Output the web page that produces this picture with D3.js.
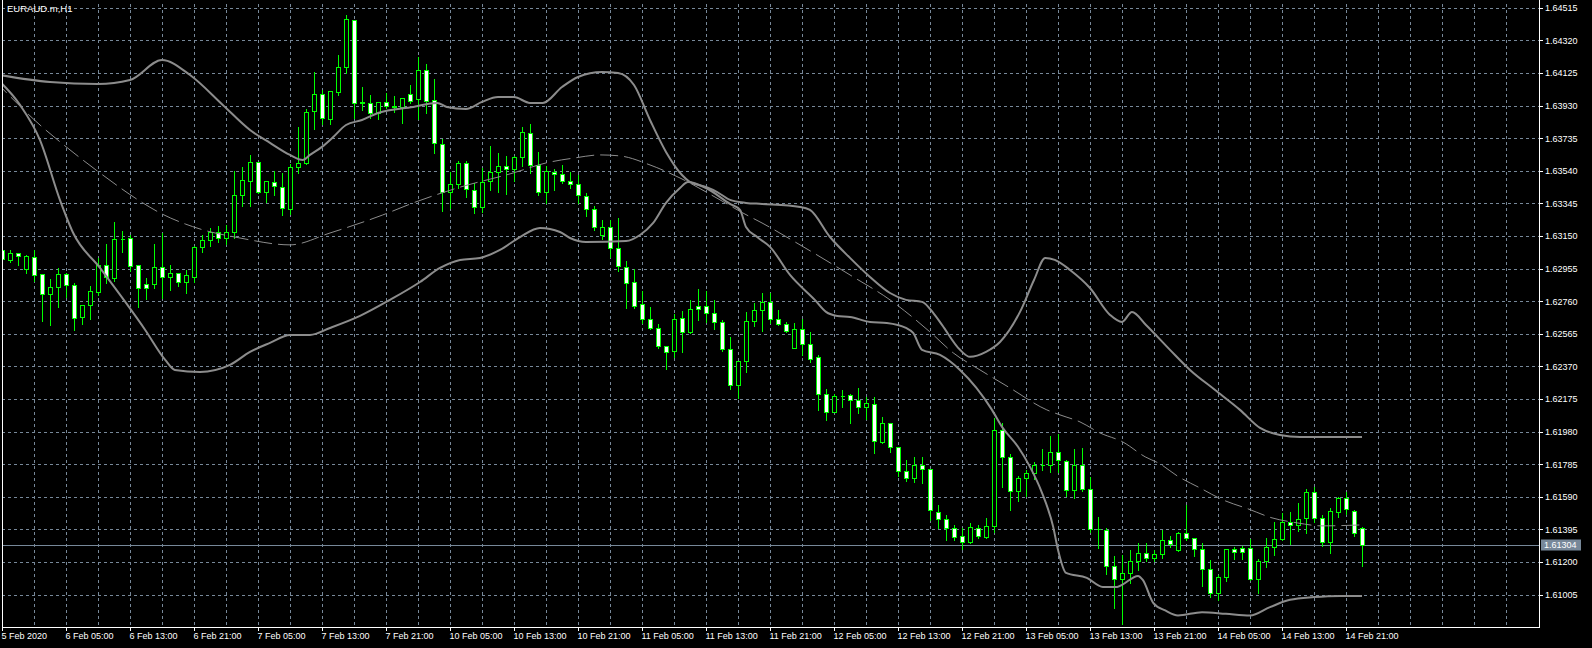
<!DOCTYPE html>
<html><head><meta charset="utf-8">
<script src="https://cdn.jsdelivr.net/npm/d3@7"></script>
<style>
html,body{margin:0;padding:0;background:#000;overflow:hidden;}
svg{display:block;}
</style></head><body>
<svg id="c" width="1592" height="648"></svg>
<script>
// ---------------- DATA ----------------
const symbolTitle = "EURAUD.m,H1";
const firstBar = [2020, 1, 5, 21]; // 5 Feb 2020 21:00, hourly bars (weekends skipped)

const opens = [1.63067,1.63007,1.63047,1.62951,1.63023,1.62921,1.62802,1.62844,1.62923,1.62856,
1.62664,1.62736,1.62817,1.62975,1.62897,1.63132,1.63137,1.62975,1.62862,1.62862,
1.62963,1.62903,1.62927,1.62873,1.62907,1.63085,1.63126,1.63174,1.63138,1.63174,
1.63394,1.63481,1.63591,1.63412,1.63471,1.63442,1.63310,1.63561,1.63585,1.63896,
1.63998,1.63848,1.64010,1.64159,1.64440,1.63950,1.63944,1.63884,1.63950,1.63928,
1.63920,1.63999,1.63968,1.64141,1.63962,1.63699,1.63415,1.63463,1.63585,1.63424,
1.63326,1.63477,1.63531,1.63567,1.63549,1.63621,1.63764,1.63573,1.63412,1.63531,
1.63519,1.63477,1.63460,1.63390,1.63310,1.63154,1.63202,1.63077,1.62967,1.62873,
1.62742,1.62652,1.62598,1.62491,1.62461,1.62658,1.62574,1.62730,1.62730,1.62688,
1.62634,1.62473,1.62258,1.62401,1.62640,1.62706,1.62757,1.62652,1.62622,1.62482,
1.62592,1.62503,1.62425,1.62204,1.62100,1.62195,1.62198,1.62168,1.62126,1.62144,
1.61920,1.62030,1.61887,1.61743,1.61701,1.61781,1.61755,1.61498,1.61456,1.61406,
1.61356,1.61319,1.61402,1.61349,1.61414,1.61988,1.61827,1.61624,1.61701,1.61731,
1.61781,1.61781,1.61857,1.61805,1.61630,1.61781,1.61636,1.61396,1.61390,1.61175,
1.61097,1.61133,1.61203,1.61253,1.61223,1.61247,1.61331,1.61271,1.61372,1.61343,
1.61277,1.61157,1.61014,1.61109,1.61277,1.61283,1.61283,1.61097,1.61207,1.61289,
1.61337,1.61438,1.61422,1.61462,1.61618,1.61462,1.61319,1.61498,1.61582,1.61508,
1.61402];
const highs = [1.63079,1.63067,1.63050,1.63034,1.63067,1.62925,1.62891,1.62957,1.62926,1.62867,
1.62739,1.62851,1.63017,1.63102,1.63232,1.63180,1.63156,1.62978,1.62897,1.63102,
1.63170,1.62977,1.62930,1.62947,1.63090,1.63156,1.63198,1.63210,1.63216,1.63537,
1.63563,1.63635,1.63594,1.63480,1.63537,1.63525,1.63579,1.63802,1.63908,1.64129,
1.64022,1.64019,1.64231,1.64470,1.64443,1.64040,1.63992,1.63953,1.64004,1.63988,
1.63977,1.64053,1.64221,1.64179,1.64089,1.63732,1.63535,1.63599,1.63599,1.63465,
1.63555,1.63689,1.63645,1.63627,1.63627,1.63800,1.63820,1.63651,1.63569,1.63549,
1.63573,1.63531,1.63513,1.63406,1.63330,1.63246,1.63246,1.63256,1.63001,1.62951,
1.62823,1.62726,1.62624,1.62494,1.62682,1.62700,1.62766,1.62832,1.62820,1.62766,
1.62646,1.62545,1.62404,1.62694,1.62748,1.62808,1.62808,1.62708,1.62634,1.62628,
1.62652,1.62578,1.62439,1.62234,1.62204,1.62229,1.62204,1.62240,1.62186,1.62186,
1.62068,1.62033,1.61890,1.61811,1.61827,1.61827,1.61758,1.61540,1.61480,1.61420,
1.61402,1.61432,1.61422,1.61462,1.62062,1.62030,1.61847,1.61715,1.61751,1.61801,
1.61875,1.61954,1.61964,1.61811,1.61875,1.61881,1.61711,1.61468,1.61402,1.61233,
1.61243,1.61273,1.61313,1.61313,1.61273,1.61392,1.61356,1.61382,1.61542,1.61346,
1.61313,1.61213,1.61123,1.61280,1.61289,1.61296,1.61337,1.61217,1.61343,1.61438,
1.61496,1.61498,1.61555,1.61637,1.61651,1.61482,1.61522,1.61591,1.61621,1.61511,
1.61408];
const lows = [1.62995,1.62997,1.62977,1.62927,1.62883,1.62644,1.62618,1.62724,1.62784,1.62588,
1.62624,1.62652,1.62797,1.62871,1.62883,1.63056,1.62943,1.62724,1.62774,1.62838,
1.62778,1.62827,1.62853,1.62811,1.62875,1.63055,1.63090,1.63114,1.63102,1.63138,
1.63330,1.63330,1.63406,1.63355,1.63394,1.63276,1.63280,1.63525,1.63579,1.63788,
1.63818,1.63818,1.63992,1.64123,1.63854,1.63902,1.63854,1.63848,1.63914,1.63894,
1.63824,1.63947,1.63850,1.63888,1.63648,1.63302,1.63316,1.63436,1.63385,1.63290,
1.63296,1.63425,1.63415,1.63403,1.63481,1.63569,1.63529,1.63396,1.63349,1.63425,
1.63465,1.63436,1.63346,1.63270,1.63186,1.63134,1.63027,1.62943,1.62718,1.62718,
1.62632,1.62592,1.62482,1.62353,1.62425,1.62455,1.62568,1.62646,1.62634,1.62592,
1.62461,1.62237,1.62182,1.62339,1.62610,1.62584,1.62632,1.62619,1.62578,1.62479,
1.62439,1.62397,1.62110,1.62050,1.62097,1.62126,1.62034,1.62094,1.62054,1.61854,
1.61911,1.61860,1.61715,1.61687,1.61681,1.61672,1.61452,1.61406,1.61332,1.61332,
1.61277,1.61316,1.61346,1.61346,1.61378,1.61648,1.61514,1.61567,1.61594,1.61697,
1.61751,1.61739,1.61739,1.61596,1.61584,1.61624,1.61378,1.61283,1.61127,1.60924,
1.60830,1.61073,1.61153,1.61203,1.61203,1.61223,1.61289,1.61268,1.61332,1.61237,
1.61059,1.60993,1.60974,1.61089,1.61217,1.61217,1.61093,1.61017,1.61169,1.61243,
1.61334,1.61307,1.61388,1.61372,1.61442,1.61298,1.61256,1.61468,1.61486,1.61358,
1.61179];
const closes = [1.63011,1.63047,1.63031,1.63031,1.62919,1.62802,1.62844,1.62923,1.62856,1.62658,
1.62736,1.62821,1.62975,1.62903,1.63131,1.63130,1.62973,1.62838,1.62838,1.62963,
1.62903,1.62927,1.62873,1.62915,1.63083,1.63126,1.63174,1.63138,1.63174,1.63394,
1.63483,1.63591,1.63412,1.63477,1.63448,1.63316,1.63561,1.63585,1.63890,1.63998,
1.63854,1.64016,1.64159,1.64446,1.63944,1.63946,1.63884,1.63950,1.63925,1.63920,
1.63974,1.63959,1.64141,1.63959,1.63705,1.63415,1.63460,1.63585,1.63433,1.63326,
1.63475,1.63531,1.63567,1.63549,1.63621,1.63770,1.63573,1.63412,1.63537,1.63519,
1.63477,1.63460,1.63394,1.63310,1.63202,1.63202,1.63077,1.62969,1.62867,1.62733,
1.62652,1.62598,1.62491,1.62455,1.62652,1.62574,1.62712,1.62712,1.62688,1.62634,
1.62473,1.62258,1.62401,1.62640,1.62706,1.62754,1.62652,1.62622,1.62584,1.62592,
1.62503,1.62417,1.62204,1.62100,1.62192,1.62194,1.62168,1.62126,1.62150,1.61923,
1.62030,1.61887,1.61743,1.61701,1.61781,1.61755,1.61512,1.61456,1.61406,1.61352,
1.61319,1.61408,1.61354,1.61414,1.61988,1.61827,1.61624,1.61701,1.61731,1.61781,
1.61780,1.61857,1.61809,1.61630,1.61781,1.61636,1.61396,1.61395,1.61175,1.61097,
1.61133,1.61203,1.61253,1.61223,1.61247,1.61331,1.61309,1.61372,1.61343,1.61277,
1.61157,1.61014,1.61109,1.61277,1.61259,1.61259,1.61097,1.61207,1.61289,1.61337,
1.61438,1.61422,1.61456,1.61618,1.61462,1.61319,1.61504,1.61582,1.61516,1.61372,
1.61304];

// Band lines (bar offset, price)
const upperBandBars = [-1,6,12,16,20,23.5,27.6,31,33.5,36,37.6,38.5,40,41.4,43,45,47,51.4,54.4,55.6,58,60,62,64,66,67.6,70,72,75,77,79,81,83,85,86,88,89.4,91,93,95,99.75,101,103.5,106,108.5,111,113,115,116.4,117.5,119.75,121,123,124.75,127.25,129,130.4,131.6,133.5,136,138.5,140,141.25,143,146,148.5,151.6,154.75,157.25,159.75,162.25,170];
const upperBand = [1.64119,1.64071,1.64059,1.64083,1.64203,1.64113,1.63934,1.63784,1.63707,1.63635,1.63605,1.63635,1.63683,1.63742,1.63814,1.63844,1.63886,1.63922,1.63946,1.63922,1.63910,1.63952,1.63981,1.63981,1.63946,1.63946,1.64041,1.64101,1.64131,1.64125,1.64053,1.63844,1.63653,1.63515,1.63473,1.63443,1.63413,1.63366,1.63348,1.63342,1.63324,1.63306,1.63144,1.63019,1.62905,1.62809,1.62768,1.62756,1.62690,1.62618,1.62469,1.62427,1.62457,1.62516,1.62696,1.62887,1.63019,1.63007,1.62947,1.62839,1.62678,1.62636,1.62696,1.62618,1.62469,1.62349,1.62230,1.62110,1.62002,1.61960,1.61948,1.61948];
const lowerBandBars = [-1,2.25,4.75,7.25,8.9,12.25,17.9,20.4,21.6,24.75,28.5,31,33.5,36,38.5,41,44.75,48.5,52.25,54.75,57.25,59.75,62.25,64.75,67.25,69.75,71,73,78,79.75,81.4,83,84.75,85.75,88,91,92.25,93,94.4,96,98.5,101.6,103,104.4,106,108.5,110.6,113,113.9,115,117.25,119.75,123.75,125,127,128.5,130,131.4,132,133,135.6,137.6,139.4,140,142,142.6,143.9,145.4,147,150,153,156,158.5,161,164,167.25,170];
const lowerBand = [1.64107,1.63934,1.63724,1.63365,1.63168,1.62959,1.62588,1.62409,1.62349,1.62337,1.62379,1.62457,1.62511,1.62558,1.62558,1.62600,1.62672,1.62768,1.62875,1.62959,1.63007,1.63019,1.63067,1.63144,1.63198,1.63174,1.63138,1.63114,1.63120,1.63156,1.63228,1.63348,1.63437,1.63473,1.63437,1.63342,1.63306,1.63204,1.63144,1.63085,1.62917,1.62768,1.62696,1.62672,1.62666,1.62636,1.62630,1.62600,1.62570,1.62469,1.62439,1.62349,1.62110,1.62008,1.61889,1.61769,1.61614,1.61410,1.61273,1.61135,1.61105,1.61051,1.61051,1.61063,1.61117,1.61093,1.60956,1.60910,1.60880,1.60900,1.60890,1.60880,1.60930,1.60974,1.60990,1.60997,1.60997];
const middleBandBars = [-1,4.75,8.5,12.25,17.6,19.75,22.9,24.75,29.75,36,41,47.6,51.4,56.9,63.9,68,71.6,74.75,77.25,81,84.75,89.75,92.6,95,99.75,106,111,116,118.9,122.25,126,130.6,132.25,134.75,137.25,140.1,142.9,144.75,146.9,149.75,152.6,155.75,158.75,161.9,165,170];
const middleBand = [1.64083,1.63814,1.63665,1.63527,1.63348,1.63288,1.63222,1.63192,1.63138,1.63097,1.63168,1.63276,1.63348,1.63437,1.63527,1.63587,1.63617,1.63635,1.63629,1.63575,1.63497,1.63366,1.63288,1.63228,1.63097,1.62917,1.62768,1.62576,1.62451,1.62349,1.62241,1.62110,1.62080,1.62038,1.61972,1.61918,1.61829,1.61787,1.61715,1.61643,1.61572,1.61518,1.61464,1.61434,1.61416,1.61422];

const yTickLabels = ["1.64515","1.64320","1.64125","1.63930","1.63735","1.63540","1.63345","1.63150","1.62955","1.62760","1.62565","1.62370","1.62175","1.61980","1.61785","1.61590","1.61395","1.61200","1.61005"];
const xTickLabels = ["5 Feb 2020","6 Feb 05:00","6 Feb 13:00","6 Feb 21:00","7 Feb 05:00","7 Feb 13:00","7 Feb 21:00","10 Feb 05:00","10 Feb 13:00","10 Feb 21:00","11 Feb 05:00","11 Feb 13:00","11 Feb 21:00","12 Feb 05:00","12 Feb 13:00","12 Feb 21:00","13 Feb 05:00","13 Feb 13:00","13 Feb 21:00","14 Feb 05:00","14 Feb 13:00","14 Feb 21:00"];
const lastPrice = 1.61304;

// ---------------- CHART ----------------
const W = 1592, H = 648;
const F = {left: 2, right: 1539, top: 0, bottom: 627};
const FONT = "'Liberation Sans', Arial, sans-serif";
const C = {bg:"#000000", fg:"#ffffff", grid:"#778899", bull:"#00ff00", band:"#8c8c8c"};

// bar times (hourly, no weekend bars)
const times = [];
let t = new Date(firstBar[0], firstBar[1], firstBar[2], firstBar[3], 0);
while (times.length < closes.length) {
  const wd = t.getDay();
  if (wd !== 0 && wd !== 6) times.push(new Date(t));
  t = new Date(t.getTime() + 3600e3);
}
const fmtTime = d3.timeFormat("%-d %b %H:%M");
const fmtDate = d3.timeFormat("%-d %b %Y");
const xTickBars = xTickLabels.map((lab, k) =>
  k === 0 ? times.findIndex(d => fmtDate(d) === lab) : times.findIndex(d => fmtTime(d) === lab));

const x = d3.scaleLinear().domain([0, closes.length - 1]).range([2, 2 + 8 * (closes.length - 1)]);
const y = d3.scaleLinear().domain([1.61005, 1.64515]).range([594.6, 7.8]);
const yTickValues = yTickLabels.map(Number);

const svg = d3.select("#c");
svg.append("rect").attr("width", W).attr("height", H).attr("fill", C.bg);
svg.append("defs").append("clipPath").attr("id", "clip")
  .append("rect").attr("x", F.left).attr("y", F.top).attr("width", F.right - F.left).attr("height", F.bottom - F.top);

// grid
const gGridV = svg.append("g").attr("stroke", C.grid).attr("stroke-dasharray", "3,3").attr("shape-rendering", "crispEdges");
const vGridBars = d3.range(4, 200, 4).filter(b => x(b) < F.right - 1);
gGridV.selectAll("line").data(vGridBars).join("line")
  .attr("x1", d => x(d) + 0.5).attr("x2", d => x(d) + 0.5)
  .attr("y1", F.top + 4).attr("y2", F.bottom);
const gGridH = svg.append("g").attr("stroke", C.grid).attr("stroke-dasharray", "3,3").attr("shape-rendering", "crispEdges");
gGridH.selectAll("line").data(yTickValues).join("line")
  .attr("x1", F.left).attr("x2", F.right)
  .attr("y1", d => y(d) + 0.5).attr("y2", d => y(d) + 0.5);

// current price line
svg.append("line").attr("x1", F.left).attr("x2", F.right)
  .attr("y1", y(lastPrice) + 0.5).attr("y2", y(lastPrice) + 0.5)
  .attr("stroke", C.grid).attr("shape-rendering", "crispEdges");

// candles
const bars = closes.map((c, i) => ({i, o: opens[i], h: highs[i], l: lows[i], c}));
const gC = svg.append("g").attr("clip-path", "url(#clip)").attr("shape-rendering", "crispEdges");
gC.selectAll("line").data(bars).join("line")
  .attr("x1", d => x(d.i) + 0.5).attr("x2", d => x(d.i) + 0.5)
  .attr("y1", d => Math.round(y(d.h))).attr("y2", d => Math.round(y(d.l)) + 1)
  .attr("stroke", C.bull);
gC.selectAll("path").data(bars).join("path")
  .attr("d", d => {
    const cx = x(d.i) + 0.5;
    const top = Math.round(y(Math.max(d.o, d.c))) + 0.5;
    const bot = Math.round(y(Math.min(d.o, d.c))) + 0.5;
    return `M${cx - 2},${top}H${cx + 2}V${bot}H${cx - 2}Z`;
  })
  .attr("fill", d => d.c < d.o ? "#ffffff" : "#000000")
  .attr("stroke", C.bull);

// bands
const gB = svg.append("g").attr("clip-path", "url(#clip)").attr("fill", "none");
const line = d3.line().x(d => x(d[0])).y(d => y(d[1])).curve(d3.curveMonotoneX);
gB.append("path").attr("d", line(upperBandBars.map((b, k) => [b, upperBand[k]])))
  .attr("stroke", C.band).attr("stroke-width", 2);
gB.append("path").attr("d", line(lowerBandBars.map((b, k) => [b, lowerBand[k]])))
  .attr("stroke", C.band).attr("stroke-width", 2);
gB.append("path").attr("d", line(middleBandBars.map((b, k) => [b, middleBand[k]])))
  .attr("stroke", C.band).attr("stroke-width", 1).attr("stroke-dasharray", "18,6");

// frame
svg.append("path")
  .attr("d", `M${F.left + 0.5},${F.top}V${F.bottom + 0.5}H${F.right + 0.5}V${F.top}`)
  .attr("fill", "none").attr("stroke", C.fg).attr("shape-rendering", "crispEdges");

// axes
const yAxis = d3.axisRight(y).tickValues(yTickValues).tickFormat((d, k) => yTickLabels[k]).tickSize(3).tickPadding(2);
const gy = svg.append("g").attr("transform", `translate(${F.right + 1},0)`).call(yAxis);
gy.select(".domain").remove();
gy.selectAll(".tick line").attr("stroke", C.fg).attr("shape-rendering", "crispEdges");
gy.selectAll(".tick text").attr("fill", C.fg).attr("font-family", FONT).attr("font-size", 9);

const xAxis = d3.axisBottom(x).tickValues(xTickBars).tickFormat((d, k) => xTickLabels[k]).tickSize(4).tickPadding(2);
const gx = svg.append("g").attr("transform", `translate(0,${F.bottom})`).call(xAxis);
gx.select(".domain").remove();
gx.selectAll(".tick line").attr("stroke", C.fg).attr("shape-rendering", "crispEdges");
gx.selectAll(".tick text").attr("fill", C.fg).attr("font-family", FONT).attr("font-size", 9)
  .attr("text-anchor", "start").attr("x", -1);

// current price label
const py = y(lastPrice) + 0.5;
svg.append("rect").attr("x", F.right + 2).attr("y", Math.round(py) - 5.5).attr("width", 40).attr("height", 11)
  .attr("fill", C.grid);
svg.append("text").attr("x", F.right + 5).attr("y", py).attr("dy", "0.35em")
  .attr("fill", "#ffffff").attr("font-family", FONT).attr("font-size", 9).text(d3.format(".5f")(lastPrice));

// title
svg.append("text").attr("x", 7).attr("y", 12).attr("fill", C.fg)
  .attr("font-family", FONT).attr("font-size", 9.5).text(symbolTitle);
</script>
</body></html>
